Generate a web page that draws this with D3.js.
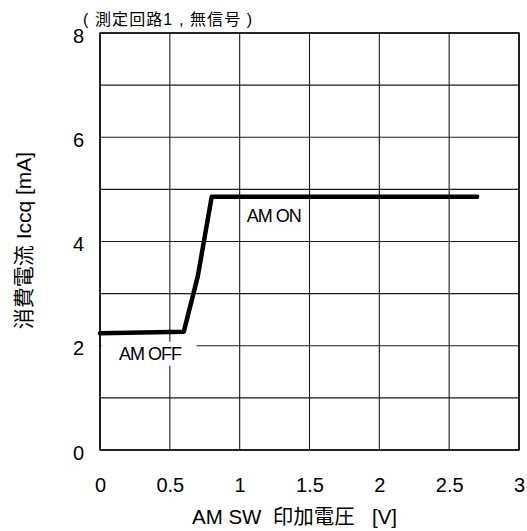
<!DOCTYPE html>
<html>
<head>
<meta charset="utf-8">
<script src="https://cdn.jsdelivr.net/npm/d3@7"></script>
<style>
  html, body { margin: 0; padding: 0; background: #fff; }
  svg { display: block; }
  text { font-family: "Liberation Sans", Arial, "Noto Sans CJK JP", sans-serif; fill: #000; white-space: pre; }
</style>
</head>
<body>
<svg id="chart" width="527" height="531"></svg>
<script>
// Supply current vs. AM SW applied voltage
const voltage = [0, 0.6, 0.7, 0.8, 2.7];        // V
const current = [2.24, 2.27, 3.33, 4.86, 4.86];   // mA

const xTicks = [0, 0.5, 1, 1.5, 2, 2.5, 3];
const xGrid = [0, 0.5, 1, 1.5, 2, 2.5, 3];
const yTicks = [0, 2, 4, 6, 8];
const yGrid = [0, 1, 2, 3, 4, 5, 6, 7, 8];

const titleText = "( 測定回路1 , 無信号 )";
const xTitle = "AM SW  印加電圧   [V]";
const yTitle = "消費電流 Iccq [mA]";
const labelOn = "AM ON";
const labelOff = "AM OFF";

const svg = d3.select("#chart");
const plot = { left: 100, right: 519, top: 33, bottom: 450 };

const x = d3.scaleLinear().domain([0, 3]).range([plot.left, plot.right]);
const y = d3.scaleLinear().domain([0, 8]).range([plot.bottom, plot.top]);

// grid
const grid = svg.append("g").attr("stroke", "#1a1a1a").attr("stroke-width", 1.1);
grid.selectAll("line.v").data(xGrid).join("line")
  .attr("x1", d => x(d)).attr("x2", d => x(d))
  .attr("y1", plot.top).attr("y2", plot.bottom);
grid.selectAll("line.h").data(yGrid).join("line")
  .attr("x1", plot.left).attr("x2", plot.right)
  .attr("y1", d => y(d)).attr("y2", d => y(d));

// frame
svg.append("rect")
  .attr("x", plot.left).attr("y", plot.top)
  .attr("width", plot.right - plot.left).attr("height", plot.bottom - plot.top)
  .attr("fill", "none").attr("stroke", "#000").attr("stroke-width", 1.5);

// axes text (tick labels only; the grid serves as ticks)
const xAxis = d3.axisBottom(x).tickValues(xTicks).tickSize(0).tickPadding(0)
  .tickFormat(d3.format("~g"));
const gx = svg.append("g").attr("transform", `translate(0,${plot.bottom + 42})`).call(xAxis);
gx.select(".domain").remove();
gx.selectAll("text").attr("font-size", 20).attr("dy", 0)
  .attr("font-family", "Liberation Sans, Arial, sans-serif").attr("fill", "#000");

const yAxis = d3.axisLeft(y).tickValues(yTicks).tickSize(0).tickPadding(16)
  .tickFormat(d3.format("~g"));
const gy = svg.append("g").attr("transform", `translate(${plot.left},0)`).call(yAxis);
gy.select(".domain").remove();
gy.selectAll("text").attr("font-size", 20).attr("dy", "0.45em")
  .attr("font-family", "Liberation Sans, Arial, sans-serif").attr("fill", "#000");

// measured curve
const line = d3.line().x((d, i) => x(voltage[i])).y(d => y(d));
svg.append("path")
  .datum(current)
  .attr("d", line)
  .attr("fill", "none")
  .attr("stroke", "#000")
  .attr("stroke-width", 4.5)
  .attr("stroke-linejoin", "round")
  .attr("stroke-linecap", "round");

// state labels
svg.append("rect")
  .attr("x", x(0) + 1.5).attr("y", y(2) - 4)
  .attr("width", 95).attr("height", 24)
  .attr("fill", "#fff");
svg.append("text")
  .attr("x", x(0) + 19).attr("y", y(2) + 14)
  .attr("font-size", 18).attr("letter-spacing", "-1px")
  .text(labelOff);
svg.append("text")
  .attr("x", x(1) + 7).attr("y", y(4.86) + 25)
  .attr("font-size", 18).attr("letter-spacing", "-1px")
  .text(labelOn);

// titles
svg.append("text")
  .attr("x", 83).attr("y", 25)
  .attr("font-size", 16).attr("letter-spacing", "1.1px")
  .text(titleText);

svg.append("text")
  .attr("x", 192).attr("y", 524)
  .attr("font-size", 20.5)
  .text(xTitle);

svg.append("text")
  .attr("transform", `translate(23,${(plot.top + plot.bottom) / 2 - 1}) rotate(-90)`)
  .attr("text-anchor", "middle")
  .attr("dominant-baseline", "central")
  .attr("font-size", 21)
  .text(yTitle);
</script>
</body>
</html>
